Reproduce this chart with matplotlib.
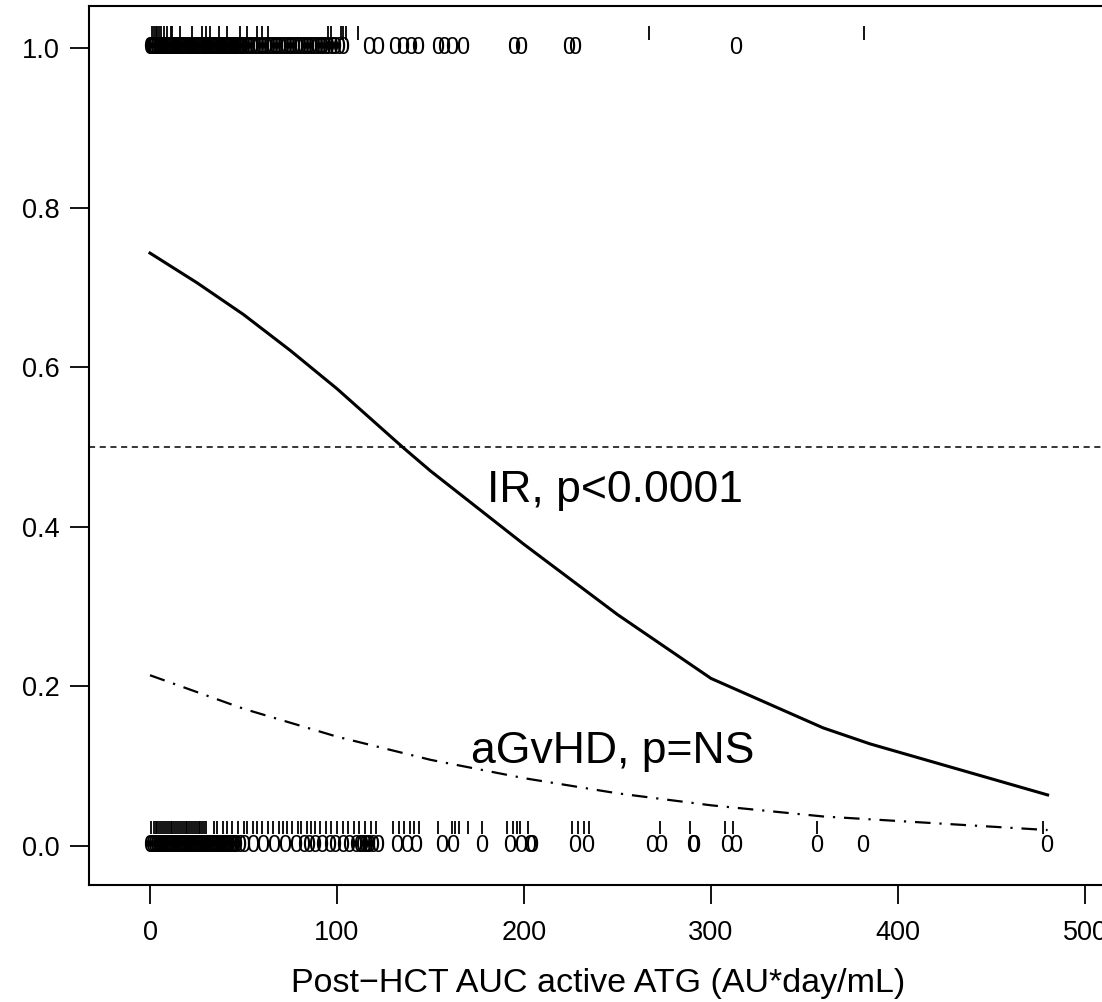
import numpy as np
import matplotlib
matplotlib.use("Agg")
import matplotlib.pyplot as plt

plt.rcParams['font.family'] = ['Liberation Sans', 'DejaVu Sans']

# fitted curves
ir_x = [0, 25, 50, 75, 100, 135, 150, 200, 250, 300, 360, 385, 480]
ir_y = [0.743, 0.706, 0.666, 0.621, 0.573, 0.50, 0.47, 0.378, 0.29, 0.21, 0.148, 0.128, 0.064]
gvhd_x = [0, 50, 100, 150, 200, 250, 300, 360, 480]
gvhd_y = [0.214, 0.172, 0.137, 0.108, 0.085, 0.066, 0.051, 0.037, 0.020]

# observed outcomes: "0" symbols (IR) and rug ticks (aGvHD)
top_zero_x = [0, 0.5, 1, 1.5, 2, 3, 4, 5, 6, 7, 8, 9, 10, 11, 12, 13, 14, 15, 16,
              17, 18, 19, 20, 21, 22, 23, 24, 25, 26, 27, 28, 29, 30, 31, 32, 33,
              34, 35, 36, 37, 38, 39, 40, 41, 42, 43, 44, 45, 46, 47, 48, 49, 50,
              51.5, 53, 54.5, 56, 57.5, 59, 60.5, 62, 63.5, 65, 66.5, 68, 69.5, 71,
              72.5, 74, 75.5, 77, 78.5, 80, 81.5, 83, 84.5, 86, 87.5, 89, 90.5, 92,
              93.5, 95, 97, 99, 101, 103,
              117, 122, 131, 135, 139.5, 143, 154, 157, 161.5, 167, 194.5, 198,
              224, 227, 313]
top_tick_x = [1, 2, 3, 4, 5, 6, 7.5, 9, 11, 12, 16, 22.5, 28, 30, 32, 37, 41, 48, 52,
              57, 60, 63, 95, 97, 102, 103, 105, 111, 267, 382]
bot_zero_x = [0, 1, 2, 3, 4, 5, 6, 7, 8, 9, 10, 11, 12, 13, 14, 15, 16, 17, 18, 19,
              20, 21, 22, 23, 24, 25, 26, 27, 28, 29, 30, 31, 32, 33, 34, 35, 36,
              37, 38, 39, 40, 41, 42, 43, 44, 45, 46, 48, 50, 55, 60, 66, 72, 78,
              82, 85, 88, 92, 96, 99, 103, 106, 110, 112, 113, 115, 116, 117, 119,
              122, 132, 137, 142, 156, 162, 177.5, 192.5, 198, 203, 204, 227, 234,
              268.5, 273, 290, 290.5, 308.5, 313, 356.7, 381, 479.7]
bot_tick_x = [0.5, 2, 3, 4, 5, 6, 7, 8, 9, 10, 11, 12, 13, 14, 15, 16, 17, 18, 19,
              20, 21, 22, 23, 24, 25, 26, 27, 28, 29, 30, 34, 36, 39, 41, 44, 47,
              50, 52, 55, 57, 60, 63, 66, 69, 71, 73, 76, 79, 81, 84, 86, 88, 91,
              94, 97, 100, 103, 106, 109, 112, 115, 118, 121, 130, 133, 136, 139,
              141, 144, 154, 161.5, 163, 165, 170, 177.5, 191, 194, 196, 198, 202,
              225.7, 229, 232, 235, 272.7, 288.8, 307.5, 311.8, 356.7, 477.5]

xticks = [0, 100, 200, 300, 400, 500]
yticks = [0.0, 0.2, 0.4, 0.6, 0.8, 1.0]

fig = plt.figure(figsize=(11.02, 10.02), dpi=100)
ax = fig.add_axes([89 / 1102, 1 - 885 / 1002, (1107 - 89) / 1102, (885 - 6) / 1002])

ax.plot(ir_x, ir_y, color='black', lw=2.2)
ax.plot(gvhd_x, gvhd_y, color='black', lw=1.6, linestyle=(0, (7, 4, 1, 4)))
ax.axhline(0.5, color='black', lw=1.1, linestyle=(0, (4, 3)))

for xv in top_zero_x:
    ax.text(xv, 1.0, '0', ha='center', va='center', fontsize=17, color='black')
for xv in bot_zero_x:
    ax.text(xv, 0.0, '0', ha='center', va='center', fontsize=17, color='black')
ax.vlines(top_tick_x, 1.010, 1.028, color='black', lw=1.3)
ax.vlines(bot_tick_x, 0.015, 0.031, color='black', lw=1.3)

ax.text(248.7, 0.446, 'IR, p<0.0001', ha='center', va='center', fontsize=32)
ax.text(247.6, 0.118, 'aGvHD, p=NS', ha='center', va='center', fontsize=32)

ax.set_xlim((89 - 150) / 1.87, (1107 - 150) / 1.87)
ax.set_ylim(-39 / 798, 1 + 42 / 798)
ax.set_xticks(xticks)
ax.set_xticklabels([str(t) for t in xticks])
ax.set_yticks(yticks)
ax.set_yticklabels([f'{t:.1f}' for t in yticks])
ax.tick_params(direction='out', length=14, width=1.3, labelsize=19.5, pad=7)
ax.tick_params(axis='x', pad=11)
for s in ax.spines.values():
    s.set_linewidth(1.5)

ax.set_xlabel('Post\u2212HCT AUC active ATG (AU*day/mL)', fontsize=24.5, labelpad=16)

fig.savefig('out.png', dpi=100)
